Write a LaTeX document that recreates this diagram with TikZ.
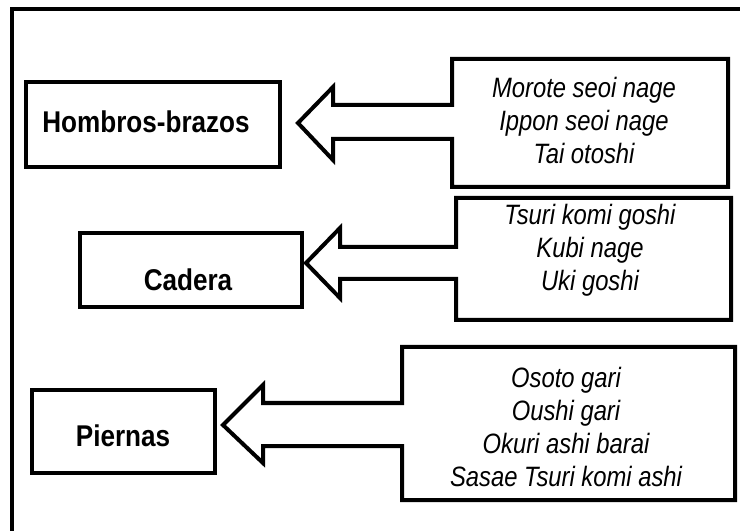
\documentclass[tikz,border=0pt]{standalone}
\usepackage{fontspec}
\setmainfont{Liberation Sans}[FakeStretch=0.87]
\newfontfamily\itnar{Liberation Sans}[FakeStretch=0.85]
\begin{document}
\begin{tikzpicture}[x=0.75pt,y=-0.75pt,line width=3pt,line join=miter,
  frame/.style={draw,line width=3pt,inner sep=0pt},
  lbl/.style={inner sep=0pt,font=\bfseries\fontsize{22.5}{26}\selectfont},
  tlist/.style={inner sep=0pt,align=center,font=\itnar\itshape\fontsize{21}{24.75}\selectfont},
  blockarrow/.style={draw,line width=3pt,fill=white}]
\useasboundingbox (0,0) rectangle (740,531);
% outer frame (runs past the right and bottom edges)
\draw (12,560) -- (12,9) -- (760,9);
% left boxes
\node[frame,minimum width=190.5pt,minimum height=63.75pt] (hbbox) at (153,124.5) {};
\node[lbl] (hb) at (146,122) {Hombros-brazos};
\node[frame,minimum width=166.5pt,minimum height=55.5pt] (cabox) at (191,270) {};
\node[lbl] (ca) at (188,280) {Cadera};
\node[frame,minimum width=137.25pt,minimum height=62.25pt] (pibox) at (123.5,431.5) {};
\node[lbl] (pi) at (123,436) {Piernas};
% right boxes fused with block arrows
\coordinate (t1) at (298,123);
\draw[blockarrow] (452,105) -- (452,59) -- (728,59) -- (728,187) -- (452,187) -- (452,139)
  -- (333,139) -- (333,160) -- (t1) -- (333,87) -- (333,105) -- cycle;
\coordinate (t2) at (306,263);
\draw[blockarrow] (456,247) -- (456,198) -- (731,198) -- (731,320) -- (456,320) -- (456,279)
  -- (340,279) -- (340,298) -- (t2) -- (340,228) -- (340,247) -- cycle;
\coordinate (t3) at (223,425);
\draw[blockarrow] (402,403) -- (402,347) -- (735,347) -- (735,500) -- (402,500) -- (402,446)
  -- (263,446) -- (263,463) -- (t3) -- (263,385) -- (263,403) -- cycle;
% technique lists
\node[tlist,anchor=north] (l1) at (584,75) {Morote seoi nage\\Ippon seoi nage\\Tai otoshi};
\node[tlist,anchor=north] (l2) at (590,202) {Tsuri komi goshi\\Kubi nage\\Uki goshi};
\node[tlist,anchor=north] (l3) at (566,365) {Osoto gari\\Oushi gari\\Okuri ashi barai\\Sasae Tsuri komi ashi};
\end{tikzpicture}
\end{document}
